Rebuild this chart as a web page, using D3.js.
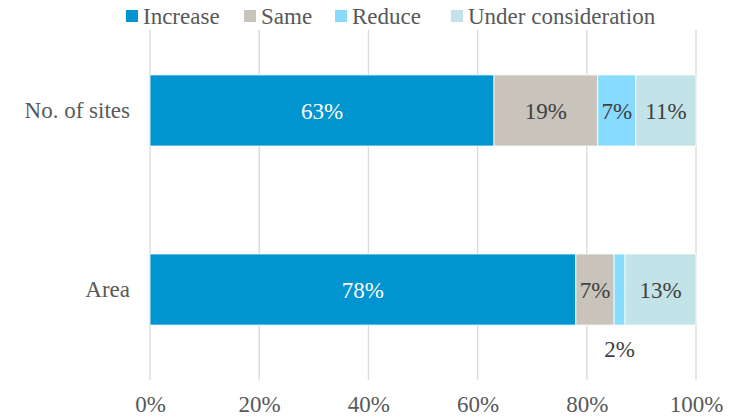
<!DOCTYPE html>
<html>
<head>
<meta charset="utf-8">
<script src="https://cdn.jsdelivr.net/npm/d3@7"></script>
<style>
  html, body { margin: 0; padding: 0; background: #fff; }
  svg { display: block; }
  svg text { font-family: "Liberation Serif", "Tinos", "DejaVu Serif", serif; font-size: 23px; }
</style>
</head>
<body>
<svg id="chart" width="733" height="418"></svg>
<script>
const categories = ["No. of sites", "Area"];
const seriesNames = ["Increase", "Same", "Reduce", "Under consideration"];
const increase = [63, 78];
const same = [19, 7];
const reduce = [7, 2];
const underConsideration = [11, 13];
const tickValues = [0, 20, 40, 60, 80, 100];

const colors = ["#0094D0", "#C8C4BC", "#87DBFF", "#C2E3E8"];
const labelColors = ["#ffffff", "#404040", "#404040", "#404040"];

const seriesValues = [increase, same, reduce, underConsideration];
const rows = categories.map((c, i) => {
  const r = { category: c };
  seriesNames.forEach((s, j) => r[s] = seriesValues[j][i]);
  return r;
});
const stacked = d3.stack().keys(seriesNames)(rows);

const svg = d3.select("#chart");
const W = 733;
const plotTop = 30, plotBottom = 380;

const x = d3.scaleLinear().domain([0, 100]).range([150, W - 37]);
const y = d3.scaleBand().domain(categories).range([30, 370]).paddingInner(0.603).paddingOuter(0.251);

// vertical gridlines
svg.append("g")
  .selectAll("line")
  .data(tickValues)
  .join("line")
  .attr("x1", d => x(d)).attr("x2", d => x(d))
  .attr("y1", plotTop).attr("y2", plotBottom)
  .attr("stroke", "#D9D9D9").attr("stroke-width", 1.3);

// x axis labels
const xAxis = d3.axisBottom(x).tickValues(tickValues).tickFormat(d => d + "%").tickSize(0).tickPadding(16);
const ax = svg.append("g").attr("transform", `translate(0,${plotBottom})`).call(xAxis);
ax.select(".domain").remove();
ax.attr("font-family", null).attr("font-size", null);
ax.selectAll("text").attr("fill", "#595959");

// y axis labels
const yAxis = d3.axisLeft(y).tickSize(0).tickPadding(20);
const ay = svg.append("g").attr("transform", "translate(150,0)").call(yAxis);
ay.select(".domain").remove();
ay.attr("font-family", null).attr("font-size", null);
ay.selectAll("text").attr("fill", "#595959");

// stacked bars
const layers = svg.append("g").selectAll("g")
  .data(stacked)
  .join("g")
  .attr("fill", (d, i) => colors[i]);

layers.selectAll("rect")
  .data(d => d)
  .join("rect")
  .attr("x", d => x(d[0]))
  .attr("width", d => x(d[1]) - x(d[0]))
  .attr("y", d => y(d.data.category))
  .attr("height", y.bandwidth())
  .attr("stroke", "#ffffff").attr("stroke-width", 0.8);

// value labels
stacked.forEach((layer, i) => {
  layer.forEach(d => {
    const v = d[1] - d[0];
    const cx = (x(d[0]) + x(d[1])) / 2;
    const cy = y(d.data.category) + y.bandwidth() / 2;
    const small = v < 5;
    svg.append("text")
      .attr("x", cx)
      .attr("y", small ? y(d.data.category) + y.bandwidth() + 24 : cy)
      .attr("dy", "0.35em")
      .attr("text-anchor", "middle")
      .attr("fill", small ? "#404040" : labelColors[i])
      .text(v + "%");
  });
});

// legend
const legendX = [126, 244, 335, 451];
const legend = svg.append("g").selectAll("g")
  .data(seriesNames)
  .join("g")
  .attr("transform", (d, i) => `translate(${legendX[i]},0)`);
legend.append("rect").attr("x", 0).attr("y", 10).attr("width", 12).attr("height", 12)
  .attr("fill", (d, i) => colors[i]);
legend.append("text").attr("x", 17).attr("y", 16).attr("dy", "0.35em")
  .attr("fill", "#595959")
  .text(d => d);
</script>
</body>
</html>
